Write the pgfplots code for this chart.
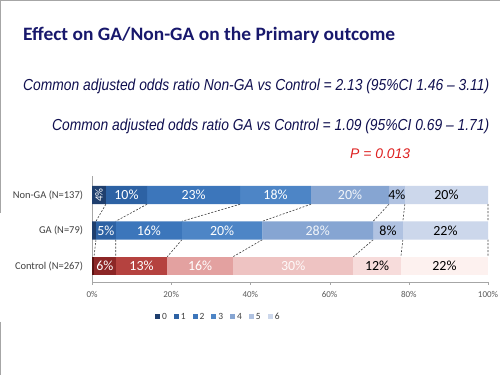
\documentclass[border=0pt]{standalone}
\usepackage{pgfplots}
\pgfplotsset{compat=1.18}
\usepackage{fontspec}
\usepackage{graphicx}
\setmainfont{Carlito}
\newfontfamily\arialfont{Liberation Sans}
\definecolor{titleblue}{RGB}{24,24,108}
\definecolor{subblue}{RGB}{16,16,80}
\definecolor{pred}{RGB}{222,32,32}
\definecolor{b0}{HTML}{1F3F6E}
\definecolor{b1}{HTML}{2D62A4}
\definecolor{b2}{HTML}{3C76BB}
\definecolor{b3}{HTML}{4D85C6}
\definecolor{b4}{HTML}{86A5D2}
\definecolor{b5}{HTML}{B0C2E1}
\definecolor{b6}{HTML}{CCD7EB}
\definecolor{r0}{HTML}{5A1212}
\definecolor{r1}{HTML}{8C2626}
\definecolor{r2}{HTML}{B5423F}
\definecolor{r3}{HTML}{E3A1A0}
\definecolor{r4}{HTML}{EEC3C2}
\definecolor{r5}{HTML}{F7DCDB}
\definecolor{r6}{HTML}{FDF1EF}
\definecolor{axgray}{HTML}{A6A6A6}
\definecolor{lblgray}{HTML}{404040}
\definecolor{tickgray}{HTML}{595959}
\definecolor{dashgray}{HTML}{404040}
\pgfplotsset{
  lbl/.style={point meta=explicit symbolic,
    nodes near coords={\pgfplotspointmeta},
    every node near coord/.append style={font=\fontsize{14}{16}\selectfont, text=#1}},
}
\begin{document}
\begin{tikzpicture}
\path[use as bounding box, fill=white] (0,0) rectangle (500bp,375bp);
\draw[gray!70, line width=1bp] (0.5bp,375bp) -- (0.5bp,162bp);
\draw[gray!70, line width=1bp] (0.5bp,53bp) -- (0.5bp,0bp);
\draw[gray!70, line width=1bp] (0bp,374.5bp) -- (500bp,374.5bp);
\begin{axis}[
  at={(92bp,93bp)}, anchor=south west,
  width=396bp, height=106bp, scale only axis,
  xbar stacked, bar width=0.52,
  xmin=0, xmax=100, ymin=-0.45, ymax=2.535,
  ytick={0,1,2}, yticklabels={Control (N=267),GA (N=79),Non-GA (N=137)},
  xtick={0,20,40,60,80,100}, xticklabels={0\%,20\%,40\%,60\%,80\%,100\%},
  axis x line*=bottom, axis y line*=left,
  axis line style={axgray, -},
  xtick align=outside, major tick length=3bp,
  xtick style={axgray},
  ytick style={draw=none},
  xticklabel style={font=\fontsize{9}{10}\selectfont, text=tickgray, yshift=-3bp},
  yticklabel style={font=\fontsize{10.5}{12}\selectfont, text=lblgray, xshift=-5.5bp},
  clip=false,
  unbounded coords=jump,
  legend style={at={(0.319,-0.33)}, anchor=center, draw=none, fill=none,
    font=\fontsize{9.5}{10}\selectfont, text=lblgray,
    /tikz/every even column/.append style={column sep=5bp}},
  legend columns=-1,
  legend image code/.code={\fill[#1] (0bp,-2.5bp) rectangle (5bp,2.5bp);},
]
% category 0
\addplot[fill=b0, draw=none, lbl=white, every node near coord/.append style={rotate=90, font=\fontsize{11}{12}\selectfont}] coordinates {(3.5,2) [4\%] (1,1) [{}] (0,0) [{}]};
\addplot[fill=r0, draw=none, forget plot, lbl=white] coordinates {(0,2) [{}] (0,1) [{}] (0.5,0) [{}]};
% category 1
\addplot[fill=b1, draw=none, lbl=white] coordinates {(10.4,2) [10\%] (5,1) [5\%] (0,0) [{}]};
\addplot[fill=r1, draw=none, forget plot, lbl=white] coordinates {(0,2) [{}] (0,1) [{}] (5.5,0) [6\%]};
% category 2
\addplot[fill=b2, draw=none, lbl=white] coordinates {(23.5,2) [23\%] (16.7,1) [16\%] (0,0) [{}]};
\addplot[fill=r2, draw=none, forget plot, lbl=white] coordinates {(0,2) [{}] (0,1) [{}] (13,0) [13\%]};
% category 3
\addplot[fill=b3, draw=none, lbl=white] coordinates {(17.9,2) [18\%] (20.3,1) [20\%] (0,0) [{}]};
\addplot[fill=r3, draw=none, forget plot, lbl=white] coordinates {(0,2) [{}] (0,1) [{}] (16.6,0) [16\%]};
% category 4
\addplot[fill=b4, draw=none, lbl={white!90!b4}] coordinates {(19.7,2) [20\%] (28,1) [28\%] (0,0) [{}]};
\addplot[fill=r4, draw=none, forget plot, lbl={white!92!r4}] coordinates {(0,2) [{}] (0,1) [{}] (30.4,0) [30\%]};
% category 5
\addplot[fill=b5, draw=none, lbl=black] coordinates {(4,2) [4\%] (7.5,1) [8\%] (0,0) [{}]};
\addplot[fill=r5, draw=none, forget plot, lbl=black] coordinates {(0,2) [{}] (0,1) [{}] (12,0) [12\%]};
% category 6
\addplot[fill=b6, draw=none, lbl=black] coordinates {(21,2) [20\%] (21.5,1) [22\%] (0,0) [{}]};
\addplot[fill=r6, draw=none, forget plot, lbl=black] coordinates {(0,2) [{}] (0,1) [{}] (22,0) [22\%]};
\legend{0,1,2,3,4,5,6}
% series lines
\addplot[sharp plot, stack plots=false, forget plot, mark=none, dashgray, line width=0.6bp, dash pattern=on 2bp off 1.5bp] coordinates {
(3.5,1.74) (1,1.26) (nan,nan)
(13.9,1.74) (6,1.26) (nan,nan)
(37.4,1.74) (22.7,1.26) (nan,nan)
(55.3,1.74) (43,1.26) (nan,nan)
(75,1.74) (71,1.26) (nan,nan)
(79,1.74) (78.5,1.26) (nan,nan)
(100,1.74) (100,1.26) (nan,nan)
(1,0.74) (0.5,0.26) (nan,nan)
(6,0.74) (6,0.26) (nan,nan)
(22.7,0.74) (19,0.26) (nan,nan)
(43,0.74) (35.6,0.26) (nan,nan)
(71,0.74) (66,0.26) (nan,nan)
(78.5,0.74) (78,0.26) (nan,nan)
(100,0.74) (100,0.26)
};
\end{axis}
\node[anchor=base west, inner sep=0, text=titleblue] at (23bp,334bp) {\resizebox{372bp}{\height}{\fontsize{19}{22}\selectfont\bfseries Effect on GA/Non-GA on the Primary outcome}};
\node[anchor=base west, inner sep=0, text=subblue] at (23bp,284bp) {\resizebox{466bp}{\height}{\arialfont\itshape\fontsize{16}{18}\selectfont Common adjusted odds ratio Non-GA vs Control = 2.13 (95\%CI 1.46 – 3.11)}};
\node[anchor=base west, inner sep=0, text=subblue] at (52bp,244bp) {\resizebox{437bp}{\height}{\arialfont\itshape\fontsize{16}{18}\selectfont Common adjusted odds ratio GA vs Control = 1.09 (95\%CI 0.69 – 1.71)}};
\node[anchor=base west, inner sep=0, text=pred] at (350bp,216bp) {\resizebox{60bp}{\height}{\arialfont\itshape\fontsize{14}{16}\selectfont P = 0.013}};
\end{tikzpicture}
\end{document}
